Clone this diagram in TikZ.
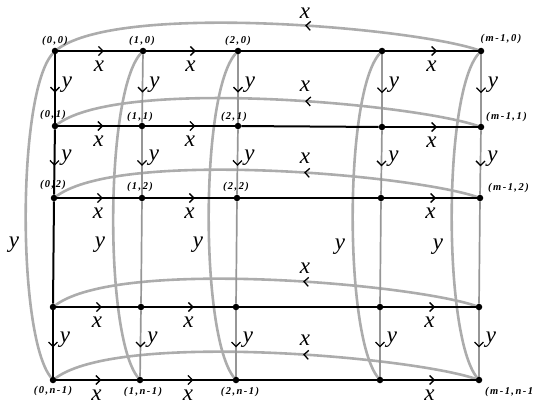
\documentclass[tikz,border=0pt]{standalone}
\usepackage{fontspec}
\setmainfont{Liberation Serif}
\newfontfamily\coordfont[LetterSpace=14]{Liberation Serif}
\usetikzlibrary{arrows.meta,decorations.markings}
\definecolor{vgray}{RGB}{150,150,150}
\definecolor{wgray}{RGB}{172,172,172}
\pgfdeclarelayer{bg}
\pgfsetlayers{bg,main}
\tikzset{
  dot/.style={circle,fill=black,draw=none,inner sep=0pt,minimum size=6.5pt},
  blk/.style={line width=2pt,draw=black},
  gry/.style={line width=1.7pt,draw=vgray},
  wrap/.style={line width=2.6pt,draw=wgray},
  midarr/.style={postaction={decorate},decoration={markings,mark=at position #1 with {\arrow{Straight Barb[length=4.5pt,width=9pt,line width=1.3pt,color=black]}}}},
  lab/.style={font=\fontsize{23}{23}\selectfont\itshape,inner sep=0pt},
  crd/.style={font=\coordfont\fontsize{10.5}{10.5}\selectfont\bfseries\itshape,inner sep=0pt},
}
\begin{document}
\begin{tikzpicture}[x=1pt,y=-1pt]
\useasboundingbox (0,0) rectangle (533,404);
% grid vertices
\node[dot] (c0r0) at (55,51) {};
\node[dot] (c0r1) at (55,126) {};
\node[dot] (c0r2) at (54,198) {};
\node[dot] (c0r3) at (53,307) {};
\node[dot] (c0r4) at (53,380) {};
\node[dot] (c1r0) at (143,51) {};
\node[dot] (c1r1) at (142,126) {};
\node[dot] (c1r2) at (142,198) {};
\node[dot] (c1r3) at (141,307) {};
\node[dot] (c1r4) at (140,380) {};
\node[dot] (c2r0) at (238,51) {};
\node[dot] (c2r1) at (238,126) {};
\node[dot] (c2r2) at (237,198) {};
\node[dot] (c2r3) at (236,307) {};
\node[dot] (c2r4) at (236,380) {};
\node[dot] (c3r0) at (382,51) {};
\node[dot] (c3r1) at (382,127) {};
\node[dot] (c3r2) at (381,198) {};
\node[dot] (c3r3) at (380,307) {};
\node[dot] (c3r4) at (380,380) {};
\node[dot] (c4r0) at (481,51) {};
\node[dot] (c4r1) at (481,127) {};
\node[dot] (c4r2) at (480,198) {};
\node[dot] (c4r3) at (479,307) {};
\node[dot] (c4r4) at (479,380) {};

\begin{pgfonlayer}{bg}
% wrap-around curves (horizontal)
\foreach \j in {0,...,4}
  \draw[wrap,midarr=0.41] (c4r\j) .. controls +(-67,-23) and +(67,-49) .. (c0r\j);
% wrap-around curves (vertical)
\foreach \i in {0,...,4}
  \draw[wrap] (c\i r0) .. controls +(-38,42) and +(-36,-45) .. (c\i r4);
% vertical edges
\foreach \i/\st in {0/blk,1/gry,2/gry,3/gry,4/gry} {
  \draw[\st,midarr=0.56] (c\i r0) -- node[lab,midway,xshift=12pt,yshift=4pt] (ya\i) {y} (c\i r1);
  \draw[\st,midarr=0.56] (c\i r1) -- node[lab,midway,xshift=12pt,yshift=4pt] (yb\i) {y} (c\i r2);
  \draw[\st] (c\i r2) -- (c\i r3);
  \draw[\st,midarr=0.56] (c\i r3) -- node[lab,midway,xshift=12pt,yshift=4pt] (yc\i) {y} (c\i r4);
}
% horizontal edges
\foreach \j in {0,...,4} {
  \draw[blk,midarr=0.56] (c0r\j) -- node[lab,midway,yshift=-15pt] (xa\j) {x} (c1r\j);
  \draw[blk,midarr=0.56] (c1r\j) -- node[lab,midway,yshift=-15pt] (xb\j) {x} (c2r\j);
  \draw[blk] (c2r\j) -- (c3r\j);
  \draw[blk,midarr=0.56] (c3r\j) -- node[lab,midway,yshift=-15pt] (xc\j) {x} (c4r\j);
}
\end{pgfonlayer}

% labels of wrap curves
\node[lab] (wx0) at (305,13) {x};
\node[lab] (wx1) at (305,86) {x};
\node[lab] (wx2) at (305,158) {x};
\node[lab] (wx3) at (305,268) {x};
\node[lab] (wx4) at (305,340) {x};
\node[lab] (wy0) at (14,245) {y};
\node[lab] (wy1) at (100,245) {y};
\node[lab] (wy2) at (198,245) {y};
\node[lab] (wy3) at (340,247) {y};
\node[lab] (wy4) at (438,247) {y};

% vertex labels
\node[crd] (l00) at (55,41) {(0,0)};
\node[crd] (l10) at (142,41) {(1,0)};
\node[crd] (l20) at (238,41) {(2,0)};
\node[crd] (l40) at (501,39) {(m-1,0)};
\node[crd] (l01) at (53,115) {(0,1)};
\node[crd] (l11) at (140,117) {(1,1)};
\node[crd] (l21) at (234,117) {(2,1)};
\node[crd,anchor=west] (l41) at (486,117) {(m-1,1)};
\node[crd] (l02) at (53,185) {(0,2)};
\node[crd] (l12) at (140,187) {(1,2)};
\node[crd] (l22) at (236,187) {(2,2)};
\node[crd,anchor=west] (l42) at (488,188) {(m-1,2)};
\node[crd] (l04) at (53,391) {(0,n-1)};
\node[crd] (l14) at (143,392) {(1,n-1)};
\node[crd] (l24) at (240,392) {(2,n-1)};
\node[crd,anchor=west] (l44) at (485,392) {(m-1,n-1};
\end{tikzpicture}
\end{document}
